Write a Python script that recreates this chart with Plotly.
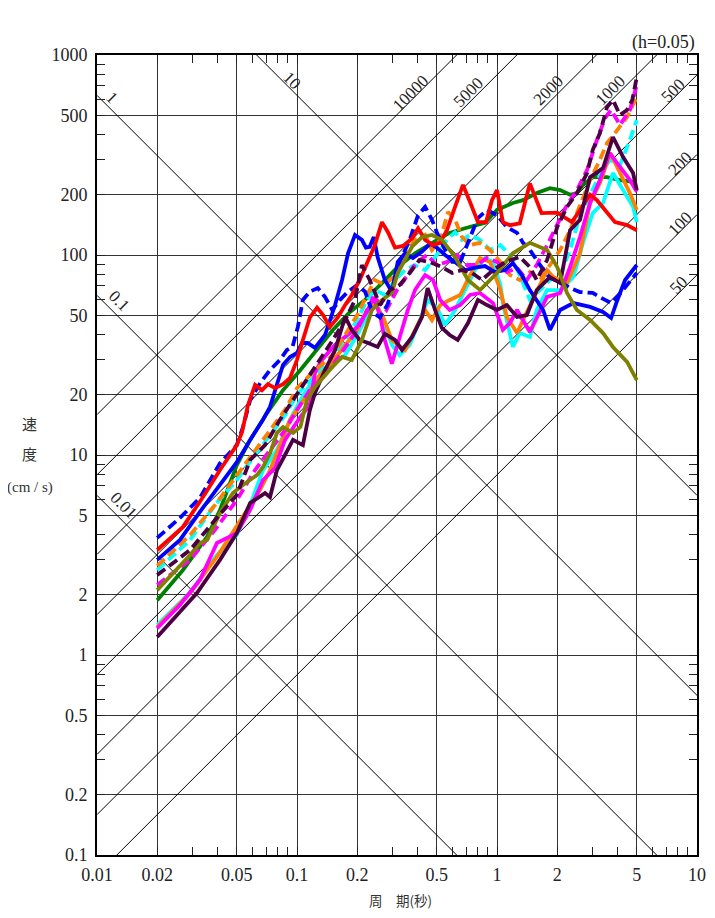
import math
import plotly.graph_objects as go

# ---------------- data (period T [s], velocity V [cm/s]) ----------------
red_T = [0.02,0.0269,0.0339,0.0412,0.05,0.0531,0.0569,0.0617,0.0668,0.0716,0.0776,0.0851,0.0923,0.1,0.107,0.116,0.126,0.135,0.146,0.160,0.174,0.188,0.206,0.224,0.245,0.266,0.285,0.309,0.339,0.376,0.403,0.437,0.479,0.519,0.562,0.617,0.676,0.733,0.803,0.881,0.944,1.0,1.07,1.16,1.30,1.46,1.67,2.0,2.19,2.37,2.60,2.92,3.16,3.55,3.89,4.47,5.0]
red_V = [3.35,4.37,6.17,8.41,11.2,13.0,17.8,22.4,21.1,22.6,21.6,22.6,24.3,29.9,37.6,48.7,54.6,50.1,43.7,48.7,56.2,63.1,75.0,91.7,112,146,130,109,111,121,136,119,112,115,133,174,224,184,146,146,188,211,146,141,144,228,162,163,153,146,168,200,188,162,146,141,133]

blue_T = [0.02,0.026,0.0327,0.0412,0.05,0.0583,0.0676,0.0733,0.0794,0.0851,0.0923,0.1,0.106,0.113,0.123,0.138,0.155,0.168,0.180,0.195,0.211,0.221,0.231,0.242,0.253,0.275,0.298,0.319,0.347,0.380,0.422,0.464,0.5,0.550,0.617,0.692,0.776,0.871,0.977,1.10,1.20,1.33,1.46,1.58,1.70,1.84,2.07,2.41,2.92,3.39,3.72,4.0,4.37,5.0]
blue_V = [2.99,3.76,5.2,7.08,9.2,11.9,15.0,17.4,22.9,28.2,30.9,32.4,36.3,36.3,34.3,39.8,56.2,75.0,102,126,119,109,110,123,97.7,75.0,65.6,92.3,102,96.6,104,114,109,100,92.3,84.1,86.5,88.1,82.2,84.1,91.2,79.4,66.8,59.6,53.1,42.2,53.1,57.5,55.0,51.9,48.4,59.6,75.0,89.1]

bluedash_T = [0.02,0.026,0.0327,0.0412,0.05,0.0537,0.0583,0.0654,0.0733,0.0822,0.089,0.095,0.101,0.107,0.116,0.127,0.138,0.150,0.164,0.180,0.2,0.219,0.238,0.26,0.283,0.30,0.326,0.366,0.403,0.437,0.473,0.5,0.550,0.597,0.655,0.733,0.803,0.891,1.0,1.12,1.26,1.35,1.46,1.64,1.84,2.07,2.32,2.60,3.01,3.47,3.72,4.07,4.57,5.0]
bluedash_V = [3.85,4.85,6.1,9.1,11.2,13.8,18.8,22.9,26.6,29.9,33.5,34.7,43.7,59.6,65.6,68.4,61.7,53.1,59.6,65.6,70.8,65.6,51.9,48.7,56.2,66.8,92.3,119,158,174,150,130,106,92.3,92.3,122,153,168,158,138,129,115,106,89.1,76.7,73.3,68.4,65.3,64.6,59.6,57.5,63.1,73.3,81.3]

green_T = [0.02,0.0269,0.0355,0.0412,0.05,0.0583,0.0708,0.0851,0.104,0.126,0.151,0.184,0.219,0.266,0.319,0.389,0.473,0.569,0.692,0.871,1.0,1.20,1.35,1.58,1.84,2.07,2.32,2.51,2.69,3.01,3.55,4.12,5.0]
green_V = [1.88,2.66,3.9,5.31,8.9,11.9,16.2,21.1,26.6,33.5,42.2,51.9,59.6,72.4,87.1,102,114,128,136,145,168,182,188,204,216,211,200,204,224,245,245,237,231]

olive_T = [0.02,0.024,0.0292,0.0327,0.0355,0.0412,0.0478,0.0537,0.0583,0.0631,0.0676,0.0733,0.0794,0.0851,0.0955,0.104,0.112,0.123,0.150,0.168,0.188,0.211,0.237,0.266,0.298,0.319,0.376,0.422,0.473,0.531,0.617,0.716,0.822,1.0,1.20,1.46,1.78,2.0,2.24,2.51,2.92,3.39,3.80,4.47,5.0]
olive_V = [2.11,2.57,3.16,3.63,3.76,5.12,6.45,7.08,7.5,7.94,8.71,10.2,12.9,13.8,12.9,13.8,18.8,21.9,27.5,30.9,29.9,37.6,53.1,59.6,64.6,81.3,110,123,126,119,97.7,75.0,66.8,81.3,102,115,106,87.1,64.6,53.1,47.3,40.7,34.7,29.2,23.7]

cyan_T = [0.02,0.0292,0.0398,0.05,0.0583,0.0676,0.0794,0.0923,0.104,0.116,0.130,0.151,0.174,0.2,0.224,0.245,0.27,0.298,0.326,0.366,0.412,0.45,0.5,0.55,0.617,0.692,0.776,0.871,0.955,1.04,1.07,1.20,1.30,1.46,1.58,1.78,2.07,2.41,2.69,3.01,3.39,3.80,4.27,4.79,5.0]
cyan_V = [1.41,2.05,3.16,3.98,5.62,8.4,10.6,15.0,18.8,22.4,25.1,28.2,31.6,39.8,50.1,59.6,47.3,35.5,31.6,35.5,47.3,59.6,54.6,44.7,53.1,66.8,84.1,96.6,92.3,70.8,57.5,34.7,40.7,38.9,53.1,66.8,66.8,77.6,115,162,182,257,211,174,146]

magenta_T = [0.02,0.026,0.0327,0.0398,0.0447,0.05,0.0583,0.0676,0.0776,0.0871,0.104,0.116,0.123,0.133,0.155,0.180,0.2,0.227,0.24,0.26,0.275,0.298,0.326,0.358,0.389,0.437,0.479,0.52,0.58,0.655,0.733,0.822,0.955,1.07,1.16,1.26,1.46,1.62,1.78,2.07,2.32,2.60,2.92,3.27,3.66,4.12,4.62,5.0]
magenta_V = [1.36,1.78,2.37,3.63,3.85,4.07,5.31,7.5,8.6,11.9,15.5,17.8,25.8,29.9,35.5,39.8,43.7,53.1,61.7,50.1,37.6,28.6,38.5,53.1,66.8,79.4,75.0,59.6,53.1,56.2,63.1,64.6,57.5,42.2,45.7,53.1,41.2,51.3,61.7,64.6,87.1,123,182,237,323,276,237,207]

orange_T = [0.02,0.0292,0.0398,0.0463,0.0537,0.0654,0.0733,0.0822,0.0923,0.104,0.116,0.130,0.150,0.174,0.2,0.224,0.245,0.27,0.298,0.347,0.389,0.437,0.473,0.52,0.58,0.655,0.733,0.822,0.923,1.04,1.12,1.26,1.35,1.52,1.78,1.91,2.24,2.60,2.92,3.27,3.69,4.12,4.62,5.0]
orange_V = [1.38,2.04,3.1,3.9,4.9,6.7,8.4,11.2,15.0,17.8,21.1,25.1,29.2,35.5,42.2,53.1,57.9,48.7,37.6,33.5,42.2,53.1,47.3,56.2,59.6,63.1,79.4,96.6,92.3,66.8,49.0,40.7,47.3,61.0,84.1,77.6,72.4,102,182,229,323,257,204,168]

purple_T = [0.02,0.024,0.0316,0.0412,0.05,0.0583,0.0631,0.0692,0.0733,0.0794,0.0871,0.0955,0.107,0.116,0.123,0.138,0.155,0.174,0.188,0.206,0.227,0.253,0.275,0.309,0.335,0.376,0.422,0.45,0.49,0.53,0.58,0.636,0.716,0.803,0.891,1.0,1.12,1.26,1.41,1.58,1.84,2.07,2.32,2.60,2.92,3.39,3.80,4.27,4.79,5.0]
purple_V = [1.23,1.50,2.04,2.99,4.07,5.75,6.1,6.45,6.16,8.41,10.0,11.9,11.2,16.8,20.4,26.6,33.5,49.0,42.2,37.6,36.3,34.7,40.3,37.6,33.5,38.9,49.0,68.4,53.1,43.2,39.8,37.6,45.7,59.6,56.2,53.1,56.2,49.0,50.1,66.8,77.6,72.4,133,150,245,272,389,309,257,211]

cyandash_T = [0.02,0.0292,0.0389,0.05,0.0617,0.0733,0.0871,0.1,0.116,0.130,0.151,0.174,0.2,0.224,0.245,0.275,0.309,0.347,0.389,0.437,0.5,0.562,0.617,0.668,0.733,0.822,0.923,1.04,1.16,1.30,1.46,1.64,1.84,2.07,2.32,2.60,2.92,3.27,3.66,4.12,4.62,5.0]
cyandash_V = [2.66,3.76,5.62,7.5,10.0,12.6,15.8,20.0,23.7,26.6,29.9,37.6,47.3,59.6,66.8,63.1,75.0,84.1,89.1,84.1,100,119,130,119,126,119,106,112,100,79.4,59.6,66.8,75.0,79.4,106,158,200,251,299,282,376,473]

orangedash_T = [0.02,0.0292,0.0389,0.05,0.0617,0.0733,0.0871,0.1,0.116,0.151,0.174,0.2,0.224,0.245,0.275,0.309,0.347,0.389,0.437,0.473,0.52,0.569,0.617,0.668,0.733,0.822,0.923,1.04,1.16,1.30,1.46,1.64,1.84,2.07,2.32,2.60,2.92,3.27,3.55,4.0,4.47,5.0]
orangedash_V = [2.79,3.98,5.62,7.94,10.6,13.3,16.8,21.6,25.1,31.6,39.8,50.1,63.1,75.0,70.8,79.4,100,119,126,106,119,164,150,123,112,115,106,92.3,79.4,75.0,82.2,75.0,89.1,106,133,178,237,299,363,422,490,617]

magdash_T = [0.02,0.0292,0.0389,0.05,0.0617,0.0733,0.0871,0.1,0.116,0.138,0.164,0.2,0.224,0.25,0.28,0.316,0.355,0.398,0.447,0.5,0.562,0.631,0.708,0.794,0.891,1.0,1.12,1.26,1.41,1.58,1.78,2.0,2.24,2.51,2.82,3.16,3.47,3.72,4.12,4.62,5.0]
magdash_V = [2.24,2.99,4.22,5.96,8.41,10.6,13.3,16.8,21.1,25.1,31.6,42.2,53.1,59.6,53.1,66.8,79.4,92.3,100,89.1,92.3,100,89.1,89.1,96.6,92.3,82.2,86.1,75.0,89.1,112,141,178,211,266,376,484,531,447,531,708]

purpdash_T = [0.02,0.0292,0.0389,0.05,0.0583,0.0692,0.0822,0.1,0.116,0.130,0.151,0.174,0.195,0.211,0.231,0.26,0.292,0.326,0.366,0.41,0.46,0.53,0.597,0.668,0.75,0.84,0.955,1.10,1.30,1.46,1.58,1.78,2.0,2.24,2.51,2.82,3.01,3.27,3.55,3.80,4.12,4.47,4.75,5.0]
purpdash_V = [2.51,3.35,4.73,6.31,9.44,11.2,15.0,20.0,25.1,29.9,37.6,47.3,59.6,89.1,75.0,56.2,66.8,70.8,81.3,94.4,92.3,87.1,81.3,84.1,81.3,75.0,84.1,92.3,97.7,87.1,75.0,94.4,138,174,204,257,335,407,549,596,501,531,596,776]

# tripartite guide values
disp_vals = [0.01, 0.1, 1, 10]                           # cm
acc_vals = [50, 100, 200, 500, 1000, 2000, 5000, 10000]  # cm/s^2

x_ticks = [0.01, 0.02, 0.05, 0.1, 0.2, 0.5, 1, 2, 5, 10]
x_ticktext = ["0.01", "0.02", "0.05", "0.1", "0.2", "0.5", "1", "2", "5", "10"]
y_ticks = [0.1, 0.2, 0.5, 1, 2, 5, 10, 20, 50, 100, 200, 500, 1000]
y_ticktext = ["0.1", "0.2", "0.5", "1", "2", "5", "10", "20", "50", "100", "200", "500", "1000"]
x_minor = [m * 10 ** e for e in (-2, -1, 0) for m in (3, 4, 6, 7, 8, 9)]
y_minor = [m * 10 ** e for e in (-1, 0, 1, 2) for m in (3, 4, 6, 7, 8, 9)]

# ---------------- figure ----------------
fig = go.Figure()
T_span = [0.01, 10]
for D in disp_vals:
    fig.add_trace(go.Scatter(x=T_span, y=[2 * math.pi * D / t for t in T_span], mode="lines",
                             line=dict(color="black", width=1), hoverinfo="skip", showlegend=False))
for A in acc_vals:
    fig.add_trace(go.Scatter(x=T_span, y=[A * t / (2 * math.pi) for t in T_span], mode="lines",
                             line=dict(color="black", width=1), hoverinfo="skip", showlegend=False))

DASH = "10px,5px"
series = [
    (green_T, green_V, "#008000", "solid"),
    (cyandash_T, cyandash_V, "#00FFFF", DASH),
    (cyan_T, cyan_V, "#00FFFF", "solid"),
    (orange_T, orange_V, "#FF8000", "solid"),
    (magenta_T, magenta_V, "#FF00FF", "solid"),
    (orangedash_T, orangedash_V, "#FF8000", DASH),
    (magdash_T, magdash_V, "#FF00FF", DASH),
    (bluedash_T, bluedash_V, "#0000FF", DASH),
    (blue_T, blue_V, "#0000FF", "solid"),
    (red_T, red_V, "#FF0000", "solid"),
    (purple_T, purple_V, "#4A0042", "solid"),
    (olive_T, olive_V, "#808000", "solid"),
    (purpdash_T, purpdash_V, "#4A0042", DASH),
]
for T, V, c, d in series:
    fig.add_trace(go.Scatter(x=T, y=V, mode="lines", line=dict(color=c, width=3.8, dash=d),
                             showlegend=False))

serif = "Liberation Serif, Times New Roman, serif"
tickfont = dict(family=serif, size=18, color="#222")

axis_common = dict(type="log", showgrid=True, gridcolor="#333", gridwidth=1,
                   showline=True, linecolor="black", linewidth=2, mirror="allticks",
                   ticks="inside", ticklen=8, tickcolor="#222", tickwidth=1,
                   zeroline=False, tickfont=tickfont, automargin=False)

fig.update_xaxes(range=[-2, 1], tickvals=x_ticks, ticktext=x_ticktext,
                 minor=dict(tickvals=x_minor, ticks="inside", ticklen=8, tickcolor="#222",
                            tickwidth=1, showgrid=False),
                 ticklabelstandoff=2, **axis_common)
fig.update_yaxes(range=[-1, 3], tickvals=y_ticks, ticktext=y_ticktext,
                 minor=dict(tickvals=y_minor, ticks="inside", ticklen=8, tickcolor="#222",
                            tickwidth=1, showgrid=False),
                 ticklabelstandoff=4, **axis_common)

ann = []
def lab(x_log, y_log, text, angle, size=17, anchor="center"):
    ann.append(dict(x=x_log, y=y_log, xref="x", yref="y", text=text, textangle=angle,
                    showarrow=False, xanchor=anchor, yanchor="middle",
                    font=dict(family=serif, size=size, color="#222")))

# displacement labels (cm)
lab(-1.25, 3.125, "(cm)", 45, 16)
lab(-1.025, 2.875, "10", 45)
lab(-1.925, 2.79, "1", 45)
lab(-1.89, 1.775, "0.1", 45)
lab(-1.865, 0.75, "0.01", 45)
# acceleration labels (cm/s^2)
lab(-0.095, 3.165, "(cm/s<sup>2</sup>)", -45, 16)
lab(-0.435, 2.81, "10000", -45)
lab(-0.145, 2.815, "5000", -45)
lab(0.255, 2.825, "2000", -45)
lab(0.565, 2.825, "1000", -45)
lab(0.88, 2.825, "500", -45)
lab(0.915, 2.46, "200", -45)
lab(0.915, 2.16, "100", -45)
lab(0.905, 1.85, "50", -45)

jp = "Noto Sans CJK JP"
ann.append(dict(x=1.0, y=1.016, xref="paper", yref="paper", text="(h=0.05)", showarrow=False,
                xanchor="right", yanchor="middle", font=dict(family=serif, size=18, color="#222")))
ann.append(dict(x=-0.112, y=0.54, xref="paper", yref="paper", text="速", showarrow=False,
                xanchor="center", yanchor="middle", font=dict(family=jp, size=15, color="#333")))
ann.append(dict(x=-0.112, y=0.5025, xref="paper", yref="paper", text="度", showarrow=False,
                xanchor="center", yanchor="middle", font=dict(family=jp, size=15, color="#333")))
ann.append(dict(x=-0.112, y=0.46, xref="paper", yref="paper", text="(cm / s)", showarrow=False,
                xanchor="center", yanchor="middle", font=dict(family=serif, size=15, color="#333")))
ann.append(dict(x=0.505, y=-0.056, xref="paper", yref="paper", text="周　期(秒)", showarrow=False,
                xanchor="center", yanchor="middle", font=dict(family=jp, size=13.5, color="#333")))

# page body has an 8px margin: size the figure so the plot area sits at 97..697 x 55..855
fig.update_layout(width=699, height=902, margin=dict(l=89, r=10, t=47, b=55, autoexpand=False),
                  paper_bgcolor="white", plot_bgcolor="white", annotations=ann,
                  showlegend=False)

fig.write_html("out.html")
